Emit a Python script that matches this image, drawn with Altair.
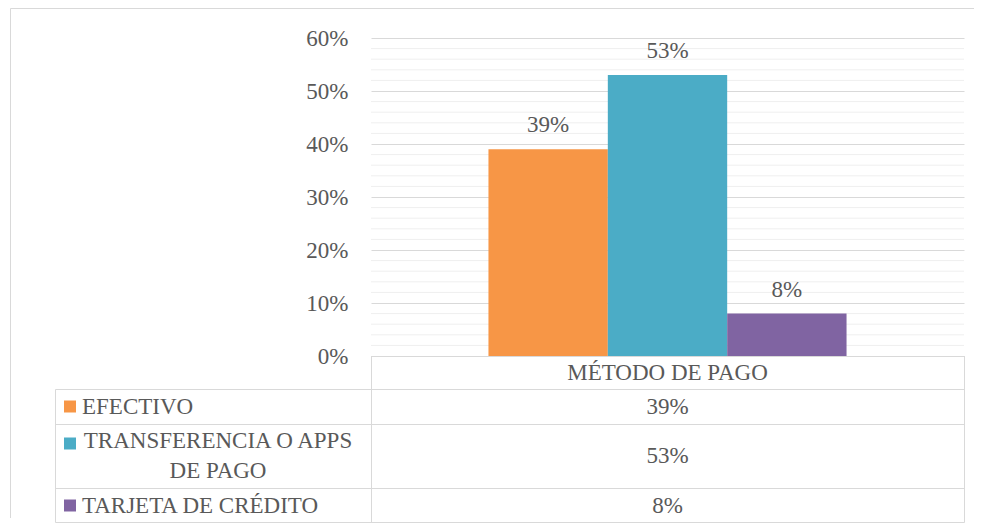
import altair as alt
import pandas as pd

# ---- data ----
series = ["EFECTIVO", "TRANSFERENCIA O APPS DE PAGO", "TARJETA DE CRÉDITO"]
values = [0.39, 0.53, 0.08]
value_labels = ["39%", "53%", "8%"]
table_labels = ["EFECTIVO", "TRANSFERENCIA O APPS\nDE PAGO", "TARJETA DE CRÉDITO"]
category = ["MÉTODO DE PAGO"]
colors = ["#F79646", "#4BACC6", "#8064A2"]
y_ticks = [0, 0.1, 0.2, 0.3, 0.4, 0.5, 0.6]
minor_ticks = [0.02, 0.04, 0.06, 0.08, 0.12, 0.14, 0.16, 0.18, 0.22, 0.24, 0.26, 0.28,
               0.32, 0.34, 0.36, 0.38, 0.42, 0.44, 0.46, 0.48, 0.52, 0.54, 0.56, 0.58]

df = pd.DataFrame({
    "serie": series,
    "value": values,
    "label": value_labels,
    "tlabel": table_labels,
    "cat": category * len(series),
})

FONT = "Liberation Serif"
TXT = "#595959"
LINE = "#d9d9d9"
FS = 23

yscale = alt.Scale(domain=[0, 0.6], nice=False)
yaxis = alt.Axis(values=y_ticks, format=".0%", title=None, grid=True, gridColor=LINE,
                 domain=False, ticks=False, tickSize=0, labelPadding=23,
                 labelFont=FONT, labelFontSize=FS, labelColor=TXT)
xenc = alt.X("cat:N", axis=None, scale=alt.Scale(paddingInner=0, paddingOuter=0.328))
xoff = alt.XOffset("serie:N", sort=series, scale=alt.Scale(paddingInner=0, paddingOuter=0))
color = alt.Color("serie:N", sort=series, scale=alt.Scale(domain=series, range=colors), legend=None)

base = alt.Chart(df)

minor_grid = alt.Chart(pd.DataFrame({"value": minor_ticks})).mark_rule(
    color="#efefef", strokeWidth=1
).encode(y=alt.Y("value:Q", scale=yscale, axis=yaxis))

bars = base.mark_bar().encode(
    x=xenc, xOffset=xoff, y=alt.Y("value:Q", scale=yscale, axis=yaxis), color=color
)

bar_labels = base.mark_text(font=FONT, fontSize=FS, color=TXT, baseline="middle", dy=-24).encode(
    x=xenc, xOffset=xoff, y=alt.Y("value:Q", scale=yscale, axis=yaxis), text="label:N"
)

header = alt.Chart(pd.DataFrame({"cat": category})).mark_text(
    font=FONT, fontSize=FS, color=TXT, baseline="middle"
).encode(x=xenc, y=alt.value(335), text="cat:N")

plot_group = alt.layer(minor_grid, bars, bar_labels, header)

# ---- data table ----
trow = alt.Y("serie:N", sort=series, axis=None,
             scale=alt.Scale(type="point", domain=series, range=[368.5, 467.5], padding=0))

t_vals = base.mark_text(font=FONT, fontSize=FS, color=TXT, baseline="middle").encode(
    x=xenc, y=trow, text="label:N"
)
t_left = base.transform_filter(alt.datum.serie != series[1]).mark_text(
    font=FONT, fontSize=FS, color=TXT, baseline="middle", align="left"
).encode(x=alt.value(-289), y=trow, text="tlabel:N")
t_center = base.transform_filter(alt.datum.serie == series[1]).mark_text(
    font=FONT, fontSize=FS, color=TXT, baseline="middle", align="center",
    lineBreak="\n", lineHeight=30, dy=-15
).encode(x=alt.value(-153), y=trow, text="tlabel:N")
sq1 = base.transform_filter(alt.datum.serie != series[1]).mark_square(
    size=144, opacity=1, filled=True
).encode(x=alt.value(-301), y=trow, color=color)
sq2 = base.transform_filter(alt.datum.serie == series[1]).mark_square(
    size=144, opacity=1, filled=True
).encode(x=alt.value(-301), y=trow, yOffset=alt.value(-12.5), color=color)

table_group = alt.layer(t_vals, t_left, t_center, sq1, sq2)


def rule(x1, x2, y1, y2):
    return alt.Chart(pd.DataFrame({"k": [0]})).mark_rule(color=LINE, strokeWidth=1).encode(
        x=alt.value(x1), x2=alt.value(x2), y=alt.value(y1), y2=alt.value(y2)
    )


rules = [
    # outer chart border
    rule(-360.5, -360.5, -29.5, 480),
    rule(-360.5, 603, -29.5, -29.5),
    # table grid
    rule(-315.5, 593.5, 351.5, 351.5),
    rule(-315.5, 593.5, 386.5, 386.5),
    rule(-315.5, 593.5, 450.5, 450.5),
    rule(-315.5, 593.5, 484.5, 484.5),
    rule(0.5, 0.5, 318, 484.5),
    rule(593.5, 593.5, 318, 484.5),
    rule(-315.5, -315.5, 351.5, 484.5),
]

chart = alt.layer(plot_group, table_group, *rules).resolve_scale(y="independent").properties(
    width=593, height=318,
    padding={"left": 363, "top": 30, "right": 10, "bottom": 167},
    autosize=alt.AutoSizeParams(type="none"),
).configure_view(stroke=None)

chart.save("out.html", embed_options={"renderer": "svg", "actions": False})
